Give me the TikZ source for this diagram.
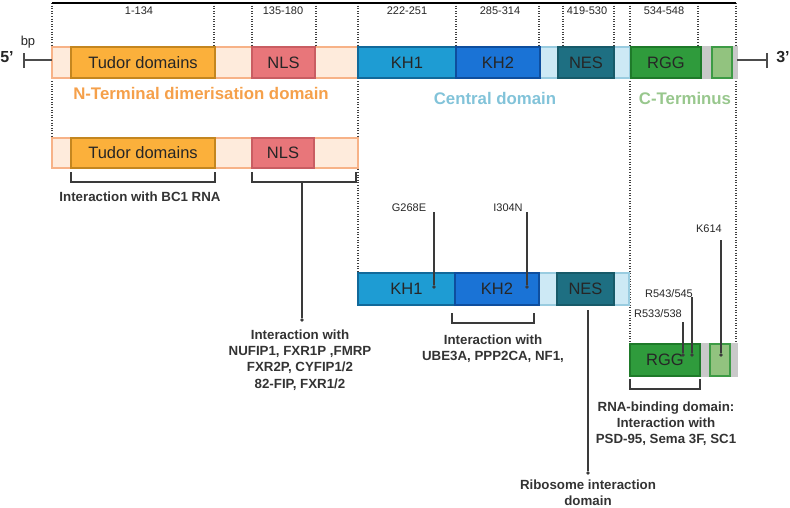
\documentclass[tikz,border=0pt]{standalone}
\usepackage{fontspec}
\setmainfont{Liberation Sans}
\definecolor{peachF}{HTML}{FEEBDC}
\definecolor{peachD}{HTML}{F7B287}
\definecolor{tudorF}{HTML}{FBB03B}
\definecolor{tudorD}{HTML}{C4861F}
\definecolor{nlsF}{HTML}{E8767A}
\definecolor{nlsD}{HTML}{C95D62}
\definecolor{khaF}{HTML}{1E9CD3}
\definecolor{khaD}{HTML}{11699A}
\definecolor{khbF}{HTML}{1A73D6}
\definecolor{khbD}{HTML}{0E4E9E}
\definecolor{lbF}{HTML}{CDE9F5}
\definecolor{lbD}{HTML}{99CCE0}
\definecolor{nesF}{HTML}{1E6F82}
\definecolor{nesD}{HTML}{175A69}
\definecolor{rggF}{HTML}{2F9B3C}
\definecolor{rggD}{HTML}{1E7A29}
\definecolor{greyF}{HTML}{C9C9C9}
\definecolor{sgF}{HTML}{92C37F}
\definecolor{sgD}{HTML}{3D9B45}
\definecolor{ntermC}{HTML}{F5A04A}
\definecolor{centC}{HTML}{82C3D9}
\definecolor{ctermC}{HTML}{98C78D}
\definecolor{lineC}{HTML}{3A3A3A}
\begin{document}
\begin{tikzpicture}[x=1pt,y=-1pt,
  bar/.style={draw, line width=1.6pt, inner sep=0pt, outer sep=0pt, anchor=north west},
  box/.style={bar, font=\fontsize{16.5}{19}\selectfont, text=black!85},
  toplab/.style={font=\fontsize{11}{13}\selectfont, text=black!85},
  mutlab/.style={font=\fontsize{11}{13}\selectfont, text=black!85},
  annot/.style={font=\bfseries\fontsize{13.3}{16.3}\selectfont, text=black!80, align=center},
  domlab/.style={font=\bfseries\fontsize{16.8}{19}\selectfont},
  guide/.style={draw=black!75, line width=1.1pt, dash pattern=on 1pt off 1.6pt},
  conn/.style={draw=lineC, line width=1.2pt},
  brk/.style={draw=lineC, line width=1.2pt},
  dotmark/.style={circle, fill=lineC, inner sep=0pt, minimum size=3.6pt}
]
\useasboundingbox (0,0) rectangle (790,507);

% guide dotted lines
\coordinate (gA1) at (52,3);   \coordinate (gA2) at (52,138);
\coordinate (gB1) at (214,3);  \coordinate (gB2) at (214,47);
\coordinate (gC1) at (252,3);  \coordinate (gC2) at (252,47);
\coordinate (gD1) at (316,3);  \coordinate (gD2) at (316,47);
\coordinate (gE1) at (358,3);  \coordinate (gE2) at (358,273);
\coordinate (gF1) at (456,3);  \coordinate (gF2) at (456,47);
\coordinate (gG1) at (539,3);  \coordinate (gG2) at (539,47);
\coordinate (gH1) at (563,3);  \coordinate (gH2) at (563,47);
\coordinate (gI1) at (614,3);  \coordinate (gI2) at (614,47);
\coordinate (gJ1) at (630,3);  \coordinate (gJ2) at (630,344);
\coordinate (gK1) at (698,3);  \coordinate (gK2) at (698,47);
\coordinate (gL1) at (736,3);  \coordinate (gL2) at (736,344);
\foreach \g in {A,B,C,D,E,F,G,H,I,J,K,L} { \path[guide] (g\g1) -- (g\g2); }
\draw[black, line width=1.3pt] (gA1) -- (gL1);

% top labels
\node[toplab] (r1) at (139,11) {1-134};
\node[toplab] (r2) at (283,11) {135-180};
\node[toplab] (r3) at (407,11) {222-251};
\node[toplab] (r4) at (500,11) {285-314};
\node[toplab] (r5) at (587,11) {419-530};
\node[toplab] (r6) at (664,11) {534-548};

% ends
\node[font=\bfseries\fontsize{16}{18}\selectfont, text=black!85] (five) at (7,57) {5{\char"27}};
\node[font=\fontsize{13}{15}\selectfont, text=black!85] (bp) at (28,42) {bp};
\node[font=\bfseries\fontsize{16}{18}\selectfont, text=black!85] (three) at (783,57) {3{\char"27}};
\coordinate (lt) at (24,60);
\coordinate (rt) at (767,60);

% main bar
\node[bar, fill=peachF, draw=peachD, minimum width=306, minimum height=31] (nbar) at (52,47) {};
\node[box, fill=tudorF, draw=tudorD, minimum width=144, minimum height=31] (tudor) at (71,47) {Tudor domains};
\node[box, fill=nlsF, draw=nlsD, minimum width=63, minimum height=31] (nls) at (252,47) {NLS};
\node[bar, fill=lbF, draw=lbD, minimum width=272, minimum height=31] (cbar) at (358,47) {};
\node[box, fill=khaF, draw=khaD, minimum width=98, minimum height=31] (kha) at (358,47) {KH1};
\node[box, fill=khbF, draw=khbD, minimum width=84, minimum height=31] (khb) at (456,47) {KH2};
\node[box, fill=nesF, draw=nesD, minimum width=56, minimum height=31] (nes) at (558,47) {NES};
\node[bar, fill=greyF, draw=greyF, minimum width=106, minimum height=31] (gbar) at (631,47) {};
\node[box, fill=rggF, draw=rggD, minimum width=70, minimum height=31] (rgg) at (631,47) {RGG};
\node[box, fill=sgF, draw=sgD, minimum width=20, minimum height=31] (sg) at (712,47) {};

\draw[draw=black!70, line width=2.4pt] (lt) -- (nbar.west |- lt);
\draw[draw=black!70, line width=2.4pt] ([yshift=-8]lt) -- ([yshift=7]lt);
\draw[draw=black!70, line width=2.4pt] (gbar.east |- rt) -- (rt);
\draw[draw=black!70, line width=2.4pt] ([yshift=-8]rt) -- ([yshift=7]rt);

% domain labels
\node[domlab, text=ntermC] (ndom) at (201,93) {N-Terminal dimerisation domain};
\node[domlab, text=centC] (cdom) at (495,98) {Central domain};
\node[domlab, text=ctermC] (ctdom) at (685,98) {C-Terminus};

% second bar
\node[bar, fill=peachF, draw=peachD, minimum width=306, minimum height=30] (nbar2) at (52,138) {};
\node[box, fill=tudorF, draw=tudorD, minimum width=144, minimum height=30] (tudor2) at (71,138) {Tudor domains};
\node[box, fill=nlsF, draw=nlsD, minimum width=62, minimum height=30] (nls2) at (252,138) {NLS};

\draw[brk] ([yshift=-4]tudor2.south west) -- ++(0,10) -| ([yshift=-4]tudor2.south east);
\draw[brk] ([yshift=-4]nls2.south west) -- ++(0,10) -| ([xshift=-2,yshift=-4]nbar2.south east);
\node[annot] (bc1) at (140,197) {Interaction with BC1 RNA};
\coordinate (nlsbrk) at (302,182);
\node[dotmark] (nlsdot) at (302,320) {};
\draw[conn] (nlsbrk) -- (nlsdot);
\node[annot, anchor=north] (nlsint) at (300,326) {Interaction with\\NUFIP1, FXR1P ,FMRP\\FXR2P, CYFIP1/2\\82-FIP, FXR1/2};

% third bar
\node[bar, fill=lbF, draw=lbD, minimum width=271, minimum height=32] (cbar3) at (358,273) {};
\node[box, fill=khaF, draw=khaD, minimum width=97, minimum height=32] (kha3) at (358,273) {KH1};
\node[box, fill=khbF, draw=khbD, minimum width=84, minimum height=32] (khb3) at (455,273) {KH2};
\node[box, fill=nesF, draw=nesD, minimum width=57, minimum height=32] (nes3) at (557,273) {NES};

\node[mutlab] (g268) at (409,208) {G268E};
\coordinate (g268top) at (434,212);
\node[dotmark] (g268dot) at (434,287) {};
\draw[conn] (g268top) -- (g268dot);
\node[mutlab] (i304) at (508,208) {I304N};
\coordinate (i304top) at (527,212);
\node[dotmark] (i304dot) at (527,287) {};
\draw[conn] (i304top) -- (i304dot);

\draw[brk] (452,313) -- (452,323) -| (534,313);
\node[annot, anchor=north] (khint) at (493,331) {Interaction with\\UBE3A, PPP2CA, NF1,};

\coordinate (nestop) at (588,310);
\node[dotmark] (nesdot) at (588,473) {};
\draw[conn] (nestop) -- (nesdot);
\node[annot, anchor=north] (rib) at (588,476) {Ribosome interaction\\domain};

% fourth bar
\node[bar, fill=greyF, draw=greyF, minimum width=107, minimum height=32] (gbar4) at (630,344) {};
\node[box, fill=rggF, draw=rggD, minimum width=70, minimum height=32] (rgg4) at (630,344) {RGG};
\node[box, fill=sgF, draw=sgD, minimum width=20, minimum height=32] (sg4) at (710,344) {};

\node[mutlab] (r543) at (669,294) {R543/545};
\coordinate (r543top) at (692,297);
\node[dotmark] (r543dot) at (692,355) {};
\draw[conn] (r543top) -- (r543dot);
\node[mutlab] (r533) at (658,314) {R533/538};
\coordinate (r533top) at (683,322);
\node[dotmark] (r533dot) at (683,355) {};
\draw[conn] (r533top) -- (r533dot);
\node[mutlab] (k614) at (709,229) {K614};
\coordinate (k614top) at (721,240);
\node[dotmark] (k614dot) at (721,355) {};
\draw[conn] (k614top) -- (k614dot);

\draw[brk] ([yshift=-3]rgg4.south west) -- ++(0,10) -| ([yshift=-3]rgg4.south east);
\node[annot, anchor=north] (rgbint) at (666,398) {RNA-binding domain:\\Interaction with\\PSD-95, Sema 3F, SC1};
\end{tikzpicture}
\end{document}
